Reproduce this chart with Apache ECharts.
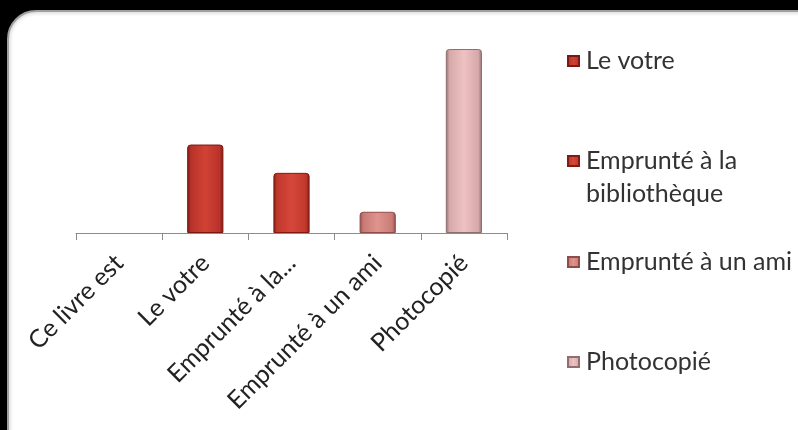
<!DOCTYPE html>
<html><head><meta charset="utf-8">
<script src="https://cdn.jsdelivr.net/npm/echarts@6/dist/echarts.min.js"></script>
<style>html,body{margin:0;padding:0;background:#000;}#c{width:798px;height:430px;}</style>
</head><body><div id="c"></div>
<script>
const categories = ['Ce livre est', 'Le votre', 'Emprunté à la...', 'Emprunté à un ami', 'Photocopié'];
const seriesNames = ['Le votre', 'Emprunté à la bibliothèque', 'Emprunté à un ami', 'Photocopié'];
const legendLines = [['Le votre'], ['Emprunté à la', 'bibliothèque'], ['Emprunté à un ami'], ['Photocopié']];
const seriesCategory = ['Le votre', 'Emprunté à la...', 'Emprunté à un ami', 'Photocopié'];
const seriesValues = [25, 17, 6, 52];
const baseColors = [['#7c1812', '#b8322a', '#d04234'], ['#801a13', '#c0382c', '#d6473a'], ['#8f4d4a', '#c97a75', '#e0948e'], ['#8e6e70', '#d6a8a9', '#eec2c2']];

function grad(c) {
  return new echarts.graphic.LinearGradient(0, 0, 1, 0, [
    {offset: 0, color: c[0]}, {offset: 0.1, color: c[1]}, {offset: 0.5, color: c[2]},
    {offset: 0.9, color: c[1]}, {offset: 1, color: c[0]}
  ]);
}

const series = seriesNames.map((n, i) => ({
  name: n, type: 'bar', stack: 'all', barWidth: '42%',
  data: categories.map(c => c === seriesCategory[i] ? seriesValues[i] : null),
  itemStyle: {color: grad(baseColors[i]), borderColor: baseColors[i][0], borderWidth: 1, borderRadius: [3, 3, 0, 0]}
}));

const LH = 33;
const legendCenters = [56, 156, 257, 357];
const legends = seriesNames.map((n, i) => {
  const lines = legendLines[i];
  const fmt = lines.length > 1 ? '{b| }\n' + lines.map(l => '{a|' + l + '}').join('\n') : '{a|' + lines[0] + '}';
  const nLines = lines.length > 1 ? 3 : 1;
  return {
    data: [n], left: 562, top: legendCenters[i] - (nLines * LH) / 2,
    orient: 'vertical', itemWidth: 11, itemHeight: 10,
    formatter: () => fmt,
    textStyle: {
      fontFamily: 'Lato', fontSize: 25, color: '#333', lineHeight: LH,
      rich: {a: {fontFamily: 'Lato', fontSize: 25, color: '#333', lineHeight: LH, padding: [0, 0, 0, 2]}, b: {lineHeight: LH, fontSize: 25}}
    },
    icon: 'rect'
  };
});

const chart = echarts.init(document.getElementById('c'));
chart.setOption({
  backgroundColor: '#000',
  animation: false,
  color: baseColors.map(c => c[1]),
  graphic: [{
    type: 'rect', z: -10, shape: {x: 8, y: 11, width: 820, height: 450, r: 28},
    style: {fill: '#fff', stroke: '#a0a0a0', lineWidth: 2, shadowBlur: 4, shadowColor: 'rgba(0,0,0,0.35)'}
  }],
  legend: legends,
  grid: {left: 76, right: 291, top: 49, bottom: 197},
  xAxis: {
    type: 'category', data: categories,
    axisLine: {lineStyle: {color: '#8c8c8c', width: 1}},
    axisTick: {show: true, length: 7, lineStyle: {color: '#8c8c8c'}},
    axisLabel: {rotate: 45, interval: 0, fontFamily: 'Lato', fontSize: 25, color: '#222', margin: 26}
  },
  yAxis: {type: 'value', min: 0, max: 52, show: false, splitLine: {show: false}},
  series: series
});
</script></body></html>
